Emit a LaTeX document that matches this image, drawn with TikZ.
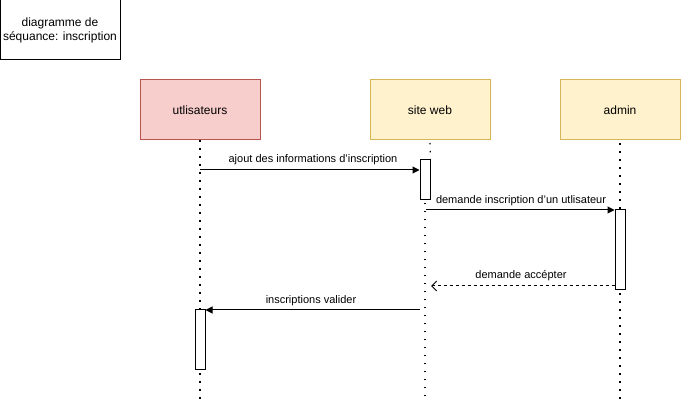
\documentclass[tikz,border=0pt]{standalone}
\usepackage{fontspec}
\setmainfont{Liberation Sans}
\usetikzlibrary{arrows.meta}
\definecolor{userfill}{HTML}{F8CECC}
\definecolor{userline}{HTML}{B85450}
\definecolor{sysfill}{HTML}{FFF2CC}
\definecolor{sysline}{HTML}{D6B656}
\tikzset{
  actor/.style={draw, line width=1pt, minimum width=120pt, minimum height=60pt,
    inner sep=0pt, font=\fontsize{12}{14}\selectfont},
  titlebox/.style={draw=black, line width=1pt, fill=white, minimum width=120pt,
    minimum height=60pt, inner sep=0pt, align=center, font=\fontsize{12}{14}\selectfont},
  actbox/.style={draw=black, line width=1pt, fill=white, minimum width=10pt,
    inner sep=0pt},
  lifeline/.style={line width=1.4pt, dash pattern=on 1.4pt off 6.6pt},
  msg/.style={line width=1pt, -{Triangle[length=7pt,width=7pt]}},
  reply/.style={line width=1pt, dash pattern=on 3pt off 3pt, -{Straight Barb[length=5pt,width=10pt]}},
  lbl/.style={font=\fontsize{11}{13}\selectfont, inner sep=0pt}
}
\begin{document}
\begin{tikzpicture}[x=1pt, y=-1pt]
\useasboundingbox[fill=white] (0,0) rectangle (681,403);

% title frame
\node[titlebox] (title) at (60,30) {diagramme de\\séquance: inscription};

% participants
\node[actor, draw=userline, fill=userfill] (user) at (200,110) {utlisateurs};
\node[actor, draw=sysline, fill=sysfill] (web) at (430,110) {site web};
\node[actor, draw=sysline, fill=sysfill] (admin) at (620,110) {admin};

% activation bars
\node[actbox, minimum height=40pt] (actweb) at (425,180) {};
\node[actbox, minimum height=80pt] (actadmin) at (620,250) {};
\node[actbox, minimum height=60pt] (actuser) at (200,340) {};

% lifeline end points
\coordinate (userend) at (200,403);
\coordinate (webtop) at (430,143);
\coordinate (webmid) at (425,203);
\coordinate (webend) at (425,403);
\coordinate (adminend) at (620,403);

% lifelines
\draw[lifeline] (user.south) -- (actuser.north);
\draw[lifeline] (actuser.south) ++(0,3) -- (userend);
\draw[lifeline] (webtop) -- (actweb.north east);
\draw[lifeline] (webmid) -- (webend);
\draw[lifeline] (admin.south) ++(0,3) -- (actadmin.north);
\draw[lifeline] (actadmin.south) ++(0,3) -- (adminend);

% message anchors
\coordinate (m1s) at (200,170);
\coordinate (m2s) at (426,210);
\coordinate (m3e) at (431,286);
\coordinate (m4s) at (420,310);

% messages
\draw[msg] (m1s) -- (actweb.west |- m1s);
\node[lbl] (l1) at (313,160) {ajout des informations d'inscription};

\draw[msg] (m2s) -- (actadmin.west |- m2s);
\node[lbl] (l2) at (521,201) {demande inscription d'un utlisateur};

\draw[reply] (actadmin.west |- m3e) -- (m3e);
\node[lbl] (l3) at (521,276) {demande accépter};

\draw[msg] (m4s) -- (actuser.east |- m4s);
\node[lbl] (l4) at (311,301) {inscriptions valider};
\end{tikzpicture}
\end{document}
